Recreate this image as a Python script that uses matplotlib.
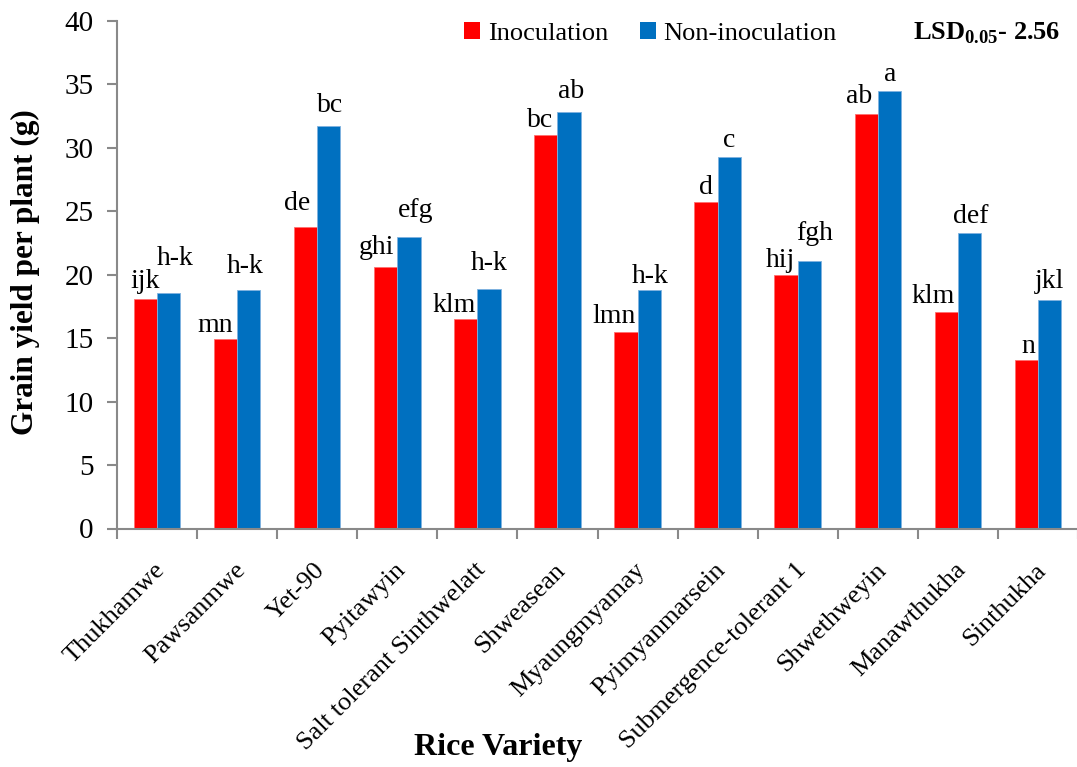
import matplotlib
matplotlib.use("Agg")
import matplotlib.pyplot as plt
import matplotlib.transforms as mtransforms
from matplotlib.patches import Patch
import numpy as np

plt.rcParams['font.family'] = ['Liberation Serif', 'DejaVu Serif']
plt.rcParams['mathtext.fontset'] = 'custom'
plt.rcParams['mathtext.rm'] = 'Liberation Serif'
plt.rcParams['mathtext.bf'] = 'Liberation Serif:bold'

varieties = ["Thukhamwe", "Pawsanmwe", "Yet-90", "Pyitawyin",
             "Salt tolerant Sinthwelatt", "Shweasean", "Myaungmyamay",
             "Pyimyanmarsein", "Submergence-tolerant 1", "Shwethweyin",
             "Manawthukha", "Sinthukha"]
inoculation = [18.1, 14.9, 23.8, 20.6, 16.5, 31.0, 15.5, 25.7, 20.0, 32.7, 17.1, 13.3]
non_inoculation = [18.6, 18.8, 31.7, 23.0, 18.9, 32.8, 18.8, 29.3, 21.1, 34.5, 23.3, 18.0]
letters_inoc = ["ijk", "mn", "de", "ghi", "klm", "bc", "lmn", "d", "hij", "ab", "klm", "n"]
letters_non = ["h-k", "h-k", "bc", "efg", "h-k", "ab", "h-k", "c", "fgh", "a", "def", "jkl"]
y_ticks = [0, 5, 10, 15, 20, 25, 30, 35, 40]

# hand-placed label offsets (pixels) relative to the top centre of each bar
offs_inoc = [(0, 11), (-10, 7), (-8, 17), (-9, 13), (-12, 7), (-6, 8),
             (-12, 9), (0, 8), (-6, 8), (-7, 11), (-13, 9), (2, 7)]
offs_non = [(7, 28), (-4, 17), (1, 14), (7, 20), (0, 19), (2, 14),
            (1, 7), (0, 10), (5, 21), (1, 10), (1, 10), (0, 12)]

RED = "#FF0000"
BLUE = "#0070C0"
AXIS_GRAY = "#898989"

fig = plt.figure(figsize=(10.77, 7.67), dpi=100)
ax = fig.add_axes([117 / 1077, 1 - 528.5 / 767, (1078 - 117) / 1077, (528.5 - 21) / 767])

x = np.arange(len(varieties))
w = 0.29
ax.bar(x - w / 2, inoculation, w, color=RED, edgecolor="#FF6F6F", linewidth=0.6, zorder=2)
ax.bar(x + w / 2, non_inoculation, w, color=BLUE, edgecolor="#7FB2DF", linewidth=0.6, zorder=2)

ax.set_xlim(-0.5, len(varieties) - 0.5)
ax.set_ylim(0, 40)
ax.set_yticks(y_ticks)
ax.tick_params(axis='y', direction='out', length=7, width=1.5, color=AXIS_GRAY,
               labelsize=21, pad=10)

# category boundaries carry the tick marks; names sit at the centres
ax.set_xticks(np.arange(-0.5, len(varieties) + 0.5, 1.0), minor=True)
ax.tick_params(axis='x', which='minor', direction='out', length=7, width=1.5, color=AXIS_GRAY)
ax.set_xticks(x)
ax.set_xticklabels(varieties, rotation=45, ha='right', va='top',
                   rotation_mode='anchor', fontsize=19)
ax.tick_params(axis='x', which='major', length=0, pad=22)
shift = mtransforms.ScaledTranslation(-3 / 100, 0, fig.dpi_scale_trans)
for lab in ax.get_xticklabels():
    lab.set_transform(lab.get_transform() + shift)

for side in ("top", "right"):
    ax.spines[side].set_visible(False)
for side in ("left", "bottom"):
    ax.spines[side].set_color(AXIS_GRAY)
    ax.spines[side].set_linewidth(1.5)

# significance letters above each bar
for i in range(len(varieties)):
    for vals, labs, offs, off in ((inoculation, letters_inoc, offs_inoc, -w / 2),
                                  (non_inoculation, letters_non, offs_non, w / 2)):
        ax.annotate(labs[i], (x[i] + off, vals[i]), xytext=offs[i],
                    textcoords='offset pixels', ha='center', va='baseline',
                    fontsize=20, zorder=3)

fig.text(25 / 1077, 1 - 272 / 767, "Grain yield per plant (g)", rotation=90,
         ha='center', va='center', fontsize=22.5, fontweight='bold')
fig.text(498 / 1077, 1 - 748 / 767, "Rice Variety", ha='center', va='center',
         fontsize=23, fontweight='bold')

handles = [Patch(facecolor=RED, label="Inoculation"),
           Patch(facecolor=BLUE, label="Non-inoculation")]
fig.legend(handles=handles, loc='upper left', bbox_to_anchor=(464 / 1077, 1 - 22 / 767),
           ncol=2, frameon=False, fontsize=19, handlelength=0.6, handleheight=0.6,
           handletextpad=0.3, columnspacing=1.2, borderpad=0, borderaxespad=0)

fig.text(1060 / 1077, 1 - 40 / 767, r"LSD$_{\mathbf{0.05}}$- 2.56", ha='right',
         va='baseline', fontsize=19, fontweight='bold')

fig.savefig("out.png", dpi=100)
